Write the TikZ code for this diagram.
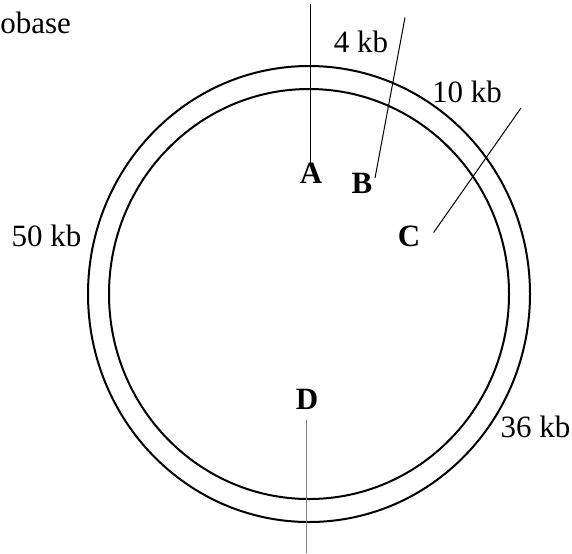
\documentclass[tikz,border=0pt]{standalone}
\usepackage{fontspec}
\setmainfont{Liberation Serif}
\usetikzlibrary{positioning}

\tikzset{
  ring/.style={line width=1pt},
  cut/.style={line width=0.5pt},
  size/.style={font=\fontsize{15.5}{18}\selectfont, inner sep=0pt},
  site/.style={font=\fontsize{15.5}{18}\selectfont\bfseries, inner sep=0pt}
}

\begin{document}
\begin{tikzpicture}[x=0.5pt,y=-0.5pt]
\useasboundingbox (0,0) rectangle (572,553);

% plasmid
\draw[ring] (309,294) ellipse [x radius=221, y radius=228];
\draw[ring] (309,294) ellipse [x radius=200, y radius=205];

% sites
\node[site] (A) at (311,173.5) {A};
\node[site] (B) at (362,183.5) {B};
\node[site] (C) at (409,236) {C};
\node[site] (D) at (307,399) {D};

\coordinate (a1) at (310,4);
\coordinate (a2) at (310,164);
\coordinate (b1) at (405,17.5);
\coordinate (b2) at (375,178);
\coordinate (c1) at (521,108);
\coordinate (c2) at (433.6,232.5);
\coordinate (d1) at (306,420);
\coordinate (d2) at (306,553);

\draw[cut] (a1) -- (a2);
\draw[cut] (b1) -- (b2);
\draw[cut] (c1) -- (c2);
\draw[cut, gray] (d1) -- (d2);

% fragment sizes
\node[size, anchor=west] (unit) at (0,23) {obase};
\node[size] (ab) at (361,42) {4 kb};
\node[size] (bc) at (467,92) {10 kb};
\node[size] (da) at (46.5,236) {50 kb};
\node[size] (cd) at (535.5,426.5) {36 kb};
\end{tikzpicture}
\end{document}
